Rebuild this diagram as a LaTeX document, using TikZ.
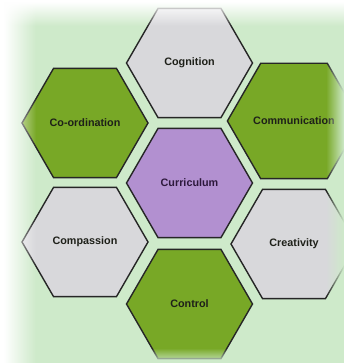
\documentclass[tikz,border=0pt]{standalone}
\usepackage{fontspec}
\setmainfont{Liberation Sans}
\usetikzlibrary{shapes.geometric,fadings}
\definecolor{bgg}{RGB}{206,234,202}
\definecolor{hexgray}{RGB}{216,216,219}
\definecolor{hexgreen}{RGB}{120,168,38}
\definecolor{hexpurple}{RGB}{178,144,208}
\definecolor{txt}{RGB}{30,32,25}
\definecolor{txtp}{RGB}{45,25,60}
\tikzset{
  hexbase/.style={regular polygon, regular polygon sides=6, minimum size=126pt,
    inner sep=0pt, draw=black!85, line width=1.4pt, line join=miter,
    font=\fontsize{10.8}{12}\selectfont\bfseries, text=txt},
  grayhex/.style={hexbase, fill=hexgray},
  greenhex/.style={hexbase, fill=hexgreen},
  purplehex/.style={hexbase, fill=hexpurple, text=txtp},
}
\begin{document}
\begin{tikzpicture}[x=1pt,y=-1pt]
\useasboundingbox (0,0) rectangle (344,363);
\clip (0,0) rectangle (344,363);
\fill[bgg] (0,0) rectangle (344,363);
\node[purplehex] (cur) at (189.5,183) {Curriculum};
\node[grayhex] (cog) at (189.5,63) {Cognition};
\node[greenhex] (coo) at (85,123) {Co-ordination};
\node[greenhex] (com) at (294,121) {Communication};
\node[grayhex] (cmp) at (85,242) {Compassion};
\node[grayhex] (cre) at (294,244) {Creativity};
\node[greenhex] (con) at (189.5,304) {Control};
% edge fades
\fill[bgg, path fading=west] (326,0) rectangle (344,363);
\fill[bgg, path fading=north] (0,348) rectangle (344,363);
\fill[white] (0,0) rectangle (4,363);
\fill[white, path fading=east] (4,0) rectangle (36,363);
\fill[white] (0,0) rectangle (344,2);
\fill[white, path fading=south] (0,2) rectangle (344,26);
\end{tikzpicture}
\end{document}
